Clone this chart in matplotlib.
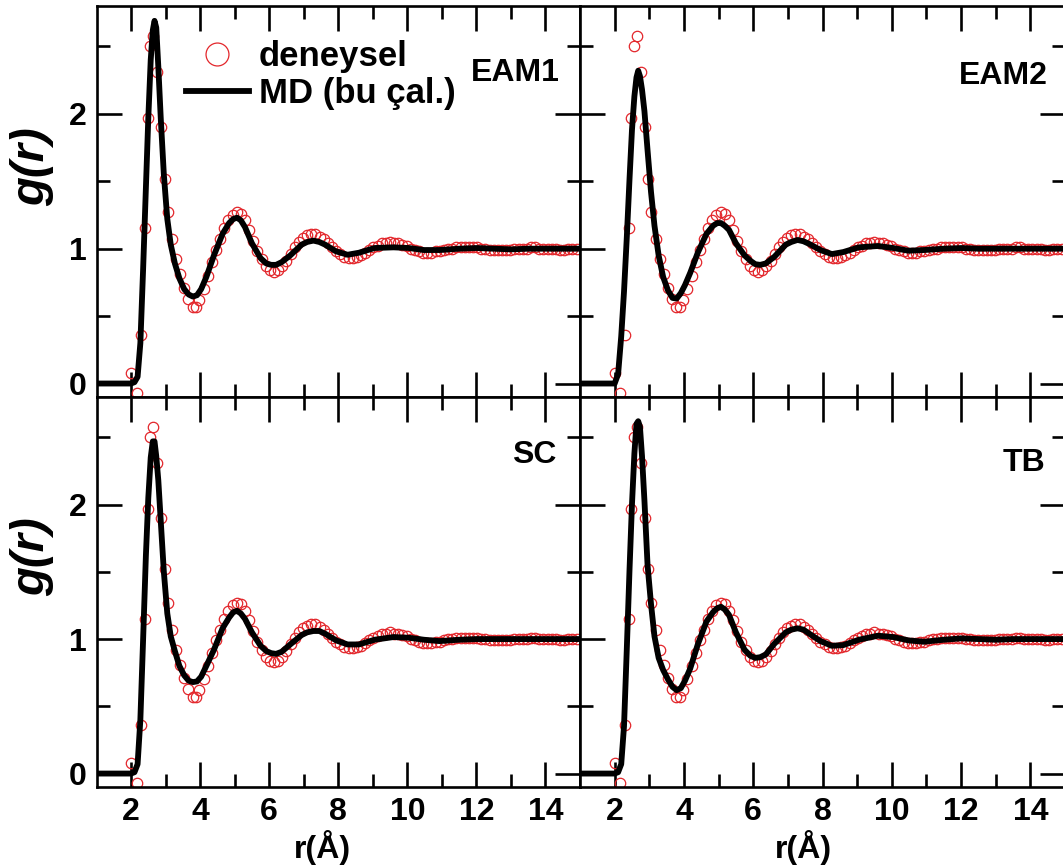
import matplotlib
matplotlib.use('Agg')
import matplotlib.pyplot as plt

plt.rcParams['font.family'] = ['Liberation Sans', 'DejaVu Sans']
plt.rcParams['font.weight'] = 'bold'

# deneysel g(r) (same in every panel)
exp_r = [2.00, 2.16, 2.30, 2.40, 2.48, 2.56, 2.64, 2.76, 2.88, 2.97, 3.06, 3.18, 3.30, 3.42, 3.54,
         3.66, 3.78, 3.88, 3.98, 4.10, 4.22, 4.34, 4.46, 4.58, 4.70, 4.82, 4.94, 5.06, 5.18, 5.30,
         5.42, 5.54, 5.66, 5.78, 5.90, 6.02, 6.14, 6.26, 6.38, 6.50, 6.62, 6.74, 6.86, 6.98, 7.10,
         7.22, 7.34, 7.46, 7.58, 7.70, 7.82, 7.94, 8.06, 8.18, 8.30, 8.42, 8.54, 8.66, 8.78, 8.90,
         9.02, 9.14, 9.26, 9.38, 9.50, 9.62, 9.74, 9.86, 9.98, 10.10, 10.22, 10.34, 10.46, 10.58,
         10.70, 10.82, 10.94, 11.06, 11.18, 11.30, 11.42, 11.54, 11.66, 11.78, 11.90, 12.02, 12.14,
         12.26, 12.38, 12.50, 12.62, 12.74, 12.86, 12.98, 13.10, 13.22, 13.34, 13.46, 13.58, 13.70,
         13.82, 13.94, 14.06, 14.18, 14.30, 14.42, 14.54, 14.66, 14.78, 14.90]
exp_g = [0.08, -0.07, 0.36, 1.15, 1.97, 2.50, 2.58, 2.31, 1.90, 1.52, 1.27, 1.07, 0.92, 0.81, 0.71,
         0.63, 0.57, 0.57, 0.62, 0.70, 0.80, 0.90, 0.99, 1.07, 1.15, 1.21, 1.25, 1.27, 1.26, 1.21,
         1.14, 1.06, 0.98, 0.92, 0.87, 0.84, 0.83, 0.84, 0.87, 0.91, 0.96, 1.01, 1.05, 1.08, 1.10,
         1.11, 1.11, 1.09, 1.07, 1.04, 1.01, 0.98, 0.96, 0.94, 0.93, 0.93, 0.94, 0.95, 0.97, 0.99,
         1.01, 1.02, 1.04, 1.04, 1.05, 1.04, 1.04, 1.03, 1.02, 1.00, 0.99, 0.98, 0.97, 0.97,
         0.97, 0.98, 0.98, 0.99, 1.00, 1.00, 1.01, 1.01, 1.01, 1.01, 1.01, 1.01, 1.00,
         1.00, 0.99, 0.99, 0.99, 0.99, 0.99, 0.99, 1.00, 1.00, 1.00, 1.00, 1.01, 1.01,
         1.00, 1.00, 1.00, 1.00, 1.00, 0.99, 0.99, 1.00, 1.00, 1.00]

# MD (bu çalışma) curves
md_r = [1.0, 2.0, 2.1, 2.19, 2.27, 2.35, 2.43, 2.50, 2.57, 2.63, 2.68, 2.73, 2.79, 2.86, 2.95,
        3.05, 3.15, 3.27, 3.40, 3.54, 3.67, 3.79, 3.91, 4.03, 4.18, 4.40, 4.65, 4.84, 4.96, 5.07,
        5.18, 5.30, 5.50, 5.75, 5.92, 6.06, 6.20, 6.36, 6.61, 6.94, 7.10, 7.28, 7.45, 7.62, 7.94,
        8.27, 8.60, 9.05, 9.60, 10.04, 10.48, 10.93, 11.50, 12.00, 12.50, 13.00, 13.50, 14.00,
        14.50, 15.00]
g_eam1 = [0, 0, 0.01, 0.05, 0.30, 0.85, 1.45, 1.97, 2.40, 2.62, 2.69, 2.64, 2.35, 1.97, 1.55,
          1.22, 1.03, 0.89, 0.78, 0.70, 0.66, 0.645, 0.655, 0.70, 0.79, 0.95, 1.11, 1.19, 1.22, 1.23,
          1.21, 1.16, 1.04, 0.93, 0.89, 0.88, 0.88, 0.90, 0.95, 1.03, 1.05, 1.06, 1.05, 1.03, 0.98,
          0.955, 0.97, 1.005, 1.01, 1.005, 0.99, 0.99, 1.00, 1.005, 1.00, 0.995, 1.00, 1.00,
          1.00, 1.00]
g_eam2 = [0, 0, 0.07, 0.35, 0.68, 1.08, 1.52, 1.88, 2.13, 2.27, 2.32, 2.28, 2.18, 2.02, 1.73,
          1.42, 1.17, 0.95, 0.79, 0.69, 0.635, 0.63, 0.67, 0.73, 0.82, 0.97, 1.11, 1.17, 1.19, 1.19,
          1.17, 1.14, 1.04, 0.95, 0.91, 0.885, 0.88, 0.89, 0.94, 1.03, 1.05, 1.065, 1.055, 1.035, 0.99,
          0.96, 0.975, 1.01, 1.02, 1.005, 0.985, 0.99, 1.00, 1.005, 1.00, 1.00, 1.00, 1.00,
          1.00, 1.00]
g_sc = [0, 0, 0.01, 0.07, 0.40, 1.00, 1.62, 2.05, 2.35, 2.47, 2.47, 2.36, 2.18, 1.88, 1.50,
        1.19, 1.02, 0.91, 0.80, 0.73, 0.69, 0.68, 0.685, 0.72, 0.80, 0.92, 1.08, 1.16, 1.20, 1.21,
        1.19, 1.15, 1.05, 0.95, 0.91, 0.895, 0.89, 0.905, 0.96, 1.03, 1.05, 1.06, 1.06, 1.04, 0.99,
        0.96, 0.96, 0.995, 1.015, 1.01, 0.995, 0.985, 0.995, 1.00, 1.00, 1.00, 1.00, 1.00,
        1.00, 1.00]
g_tb = [0, 0, 0.01, 0.07, 0.35, 0.92, 1.52, 2.00, 2.38, 2.60, 2.62, 2.58, 2.36, 2.03, 1.55,
        1.26, 1.02, 0.86, 0.77, 0.70, 0.645, 0.62, 0.635, 0.69, 0.78, 0.96, 1.13, 1.20, 1.23, 1.24,
        1.22, 1.18, 1.05, 0.92, 0.875, 0.86, 0.865, 0.885, 0.965, 1.05, 1.07, 1.08, 1.07, 1.04, 0.985,
        0.95, 0.955, 0.995, 1.025, 1.015, 0.99, 0.98, 0.995, 1.005, 1.00, 0.995, 1.00, 1.00,
        1.00, 1.00]

panel_names = ['EAM1', 'EAM2', 'SC', 'TB']
panel_curves = [g_eam1, g_eam2, g_sc, g_tb]

x_major = [2, 4, 6, 8, 10, 12, 14]
x_minor = [3, 5, 7, 9, 11, 13, 15]
x_labels = ['2', '4', '6', '8', '10', '12', '14']
y_major = [0, 1, 2]
y_minor = [0.5, 1.5, 2.5]
y_labels = ['0', '1', '2']

W, H = 1063, 866
fig = plt.figure(figsize=(W / 100, H / 100), dpi=100)

# panel boxes in pixels: left, top, right, bottom
boxes = [(96.5, 6, 580, 397), (580, 6, 1065, 397),
         (96.5, 397, 580, 787), (580, 397, 1065, 787)]
name_pos = [(0.958, 0.829), (0.965, 0.821), (0.952, 0.851), (0.959, 0.831)]

red = '#e3262b'
axes = []
for i, (l, t, r, b) in enumerate(boxes):
    ax = fig.add_axes([l / W, (H - b) / H, (r - l) / W, (b - t) / H])
    axes.append(ax)
    ax.plot(exp_r, exp_g, 'o', mfc='none', mec=red, ms=7.5, mew=0.9, label='deneysel', zorder=2)
    ax.plot(md_r, panel_curves[i], '-', color='black', lw=4.2, solid_joinstyle='round',
            label='MD (bu çal.)', zorder=3)
    ax.set_xlim(1, 15)
    ax.set_ylim(-0.1, 2.8)
    ax.set_xticks(x_major)
    ax.set_xticks(x_minor, minor=True)
    ax.set_yticks(y_major)
    ax.set_yticks(y_minor, minor=True)
    ax.tick_params(which='both', direction='in', top=True, right=True, width=1.9,
                   labelsize=23, pad=7)
    ax.tick_params(which='major', length=18)
    ax.tick_params(which='minor', length=9.5)
    for s in ax.spines.values():
        s.set_linewidth(1.9)
    if i % 2 == 0:
        ax.set_yticklabels(y_labels)
        ax.set_ylabel('g(r)', fontsize=34, fontstyle='italic', fontweight='bold', va='center')
        ax.yaxis.set_label_coords(-0.133, 0.59)
    else:
        ax.set_yticklabels([])
    if i >= 2:
        ax.set_xticklabels(x_labels)
        ax.set_xlabel('r(Å)', fontsize=23, fontweight='bold', va='bottom')
        ax.xaxis.set_label_coords(0.468 if i == 2 else 0.46, -0.2)
    else:
        ax.set_xticklabels([])
    ax.text(name_pos[i][0], name_pos[i][1], panel_names[i], transform=ax.transAxes,
            ha='right', va='center', fontsize=23, fontweight='bold')

axes[0].legend(loc='upper left', bbox_to_anchor=((186 - 96.5) / 483.5, (397 - 40) / 391),
               frameon=False, fontsize=25, markerscale=2.2, handlelength=1.8,
               handletextpad=0.3, labelspacing=0.12, borderpad=0, borderaxespad=0)

fig.savefig('out.png', dpi=100)
